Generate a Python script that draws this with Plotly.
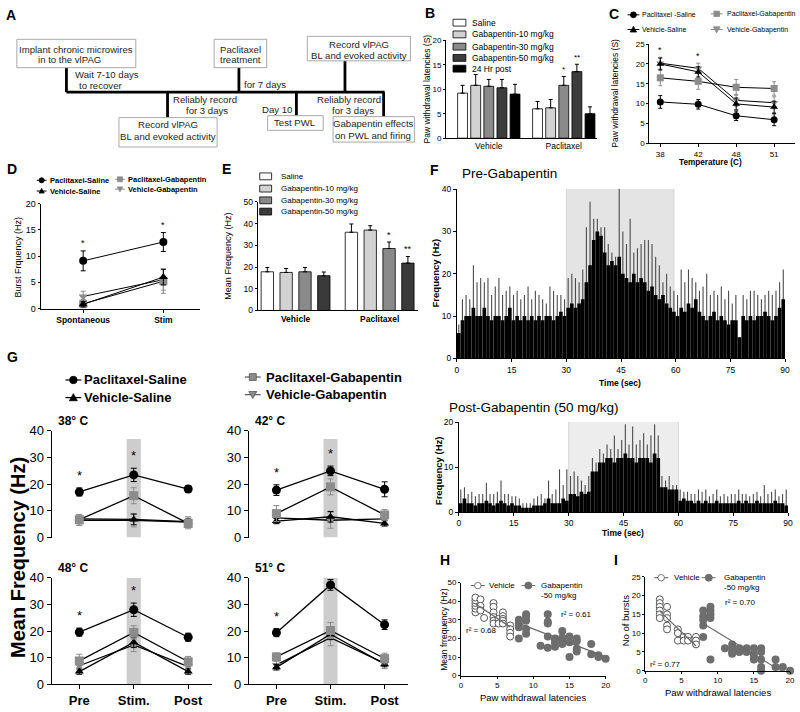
import numpy as np
import plotly.graph_objects as go

W, H = 800, 712
FONT = "Liberation Sans, Arial, Helvetica, sans-serif"

# ======================= DATA =======================
# Panel B: paw withdrawal latencies (s)
B_GROUPS = ["Vehicle", "Paclitaxel"]
B_TREATMENTS = ["Saline", "Gabapentin-10 mg/kg", "Gabapentin-30 mg/kg", "Gabapentin-50 mg/kg", "24 Hr post"]
B_VEHICLE = [9.2, 10.8, 10.6, 10.3, 9.0]
B_VEHICLE_ERR = [1.6, 2.2, 1.4, 1.7, 2.0]
B_PACLITAXEL = [6.0, 6.2, 10.8, 13.6, 5.0]
B_PACLITAXEL_ERR = [1.5, 1.7, 1.8, 1.5, 1.4]
B_PAC_SIG = ["", "", "*", "**", ""]

# Panel C: latency vs temperature
C_TEMPS = ["38", "42", "48", "51"]
C_PS = [10.4, 9.8, 6.9, 5.9]
C_PS_ERR = [1.6, 1.2, 1.2, 1.5]
C_VS = [20.0, 18.0, 9.9, 9.1]
C_VS_ERR = [1.5, 1.3, 1.5, 1.5]
C_PG = [16.5, 15.6, 14.1, 13.8]
C_PG_ERR = [2.0, 2.0, 2.0, 1.7]
C_VG = [20.2, 18.9, 10.8, 10.2]
C_VG_ERR = [1.5, 1.3, 1.5, 1.5]
C_SIG = ["*", "*", "", ""]

# Panel D: burst frequency
D_PHASES = ["Spontaneous", "Stim"]
D_PS = [9.1, 12.7]
D_PS_ERR = [1.9, 1.8]
D_VS = [0.8, 6.0]
D_VS_ERR = [0.5, 1.5]
D_PG = [0.9, 5.2]
D_PG_ERR = [0.8, 2.3]
D_VG = [2.3, 5.5]
D_VG_ERR = [1.0, 2.0]
D_SIG = ["*", "*"]

# Panel E: mean frequency
E_GROUPS = ["Vehicle", "Paclitaxel"]
E_TREATMENTS = ["Saline", "Gabapentin-10 mg/kg", "Gabapentin-30 mg/kg", "Gabapentin-50 mg/kg"]
E_VEHICLE = [17.8, 17.5, 17.8, 16.0]
E_VEHICLE_ERR = [2.0, 1.8, 2.0, 1.7]
E_PACLITAXEL = [36.0, 37.0, 28.5, 21.8]
E_PACLITAXEL_ERR = [3.8, 2.0, 3.0, 3.0]
E_PAC_SIG = ["", "", "*", "**"]

# Panel F: peri-stimulus histograms, 1-s bins (base level and spike tops)
F_PRE_BASE = [6, 9, 10, 10, 12, 10, 10, 12, 10, 9,
              10, 10, 9, 10, 12, 9, 10, 9, 10, 9,
              10, 9, 10, 9, 10, 10, 9, 10, 11, 10,
              12, 13, 12, 13, 14, 18, 22, 28, 30, 29,
              25, 22, 23, 22, 24, 20, 19, 18, 20, 18,
              19, 18, 16, 17, 15, 14, 15, 13, 12, 11,
              10, 12, 11, 13, 12, 14, 11, 10, 9, 10,
              11, 9, 10, 9, 8, 9, 9, 5, 10, 9,
              10, 9, 10, 10, 11, 10, 9, 10, 12, 14]
F_PRE_PEAK = [8, 14, 15, 14, 22, 18, 19, 18, 19, 15,
              17, 19, 15, 16, 17, 15, 16, 14, 15, 17,
              14, 16, 15, 14, 13, 17, 16, 15, 15, 14,
              19, 20, 19, 18, 21, 31, 37, 33, 33, 31,
              31, 27, 25, 24, 40, 30, 27, 33, 25, 26,
              27, 28, 28, 27, 24, 22, 18, 20, 17, 16,
              15, 21, 18, 21, 19, 18, 16, 17, 20, 15,
              16, 15, 17, 14, 16, 13, 15, 5, 15, 14,
              16, 16, 15, 14, 15, 16, 15, 16, 18, 21]
F_POST_BASE = [2, 3, 2, 2, 1.5, 2, 2, 2.5, 2, 1.5,
               2, 2.5, 2, 1.5, 2, 1.5, 1.5, 1, 1, 1,
               1.5, 1.5, 1.5, 2, 3, 2, 2, 2, 3, 2.5,
               4, 4, 3.5, 4.5, 4, 4.5, 9, 9, 11, 11,
               12, 12, 11, 12, 12, 13, 12, 12, 11, 12,
               12, 12, 11, 13, 12, 5.5, 5.5, 5, 5, 5,
               2.5, 3, 2.5, 2.5, 2, 2.5, 2, 2.5, 2, 2,
               2.5, 2, 2, 2, 2, 2, 2.5, 2, 2.5, 2,
               2, 2.5, 2, 2, 2, 2, 2.5, 2, 2, 1.5]
F_POST_PEAK = [5, 5.5, 4, 4.5, 3.5, 4, 4, 6.5, 4, 4,
               4.5, 7, 4, 4, 3.5, 3.5, 3, 2, 2, 2,
               3, 3.5, 4, 3, 7, 4, 5, 9.5, 6, 9.5,
               8, 9, 8, 7, 6, 8, 12, 11, 14, 13,
               15, 14, 17, 14, 16, 19.5, 15, 19, 15, 16,
               17.5, 15, 17, 19.5, 17, 8, 7, 8, 6, 6,
               5, 4.5, 4.5, 4, 4, 5, 4.5, 5, 3.5, 4,
               5, 3.5, 4, 3.5, 4, 4, 5, 4, 4, 3.5,
               4, 4.5, 3.5, 6, 4, 4.5, 5, 3.5, 4, 5]

# Panel G: mean frequency by temperature (rows: 38, 42, 48, 51 C; cols: Pre, Stim., Post)
G_TEMPS = ["38° C", "42° C", "48° C", "51° C"]
G_PHASES = ["Pre", "Stim.", "Post"]
G_PS = [[17.1, 23.5, 18.2], [17.8, 25.0, 18.1], [19.6, 28.0, 17.7], [19.4, 37.3, 22.4]]
G_PS_ERR = [[1.5, 2.5, 1.2], [2.0, 1.8, 2.8], [1.5, 2.5, 1.5], [1.5, 2.0, 1.8]]
G_PG = [[6.7, 15.7, 5.3], [9.0, 19.0, 8.5], [8.8, 19.5, 8.5], [10.3, 20.2, 9.7]]
G_PG_ERR = [[2.0, 3.0, 2.0], [3.0, 3.0, 2.0], [2.5, 2.5, 2.0], [1.5, 3.0, 2.0]]
G_VS = [[7.0, 6.8, 6.0], [6.2, 7.8, 5.3], [4.8, 15.8, 4.8], [6.4, 18.8, 7.6]]
G_VS_ERR = [[1.0, 2.0, 1.0], [1.0, 2.0, 1.0], [1.0, 2.0, 1.0], [1.0, 2.0, 1.0]]
G_VG = [[6.5, 6.5, 5.8], [7.4, 6.5, 7.0], [7.0, 14.8, 6.7], [7.3, 17.5, 7.9]]
G_VG_ERR = [[2.0, 2.5, 2.0], [2.0, 3.0, 2.0], [2.0, 2.5, 2.0], [1.5, 3.0, 2.0]]
G_SIG = ["*", "*", ""]

# Panel H: mean frequency vs paw withdrawal latency
H_VEH_X = [2, 2, 2, 2, 2, 2, 2.7, 2.7, 2.7, 3.2, 4.5, 4.5, 4.5, 4.5, 4.5, 4.5,
           5.2, 5.2, 5.8, 5.8, 5.8, 5.8, 5.8, 6.8, 6.8, 6.8, 6.8]
H_VEH_Y = [34, 36, 37.5, 39, 40.5, 42, 41, 37.5, 35, 31, 39, 37, 34, 31.5, 29.5, 28,
           30.5, 28, 34, 32, 30.5, 29.5, 28, 27, 25, 23, 21]
H_GAB_X = [8, 8, 8, 8, 9, 9, 9, 9, 9, 11, 12, 12, 12, 12, 12, 13, 13, 13, 13,
           14, 14, 14, 14, 15, 15, 15, 16, 16, 16, 16, 18, 18, 19, 19, 20]
H_GAB_Y = [30, 28, 26, 20, 33, 31.5, 29.5, 25, 22.5, 16, 33, 29, 28, 21, 15, 20, 19, 17.5, 15.5,
           24, 20.5, 19, 17, 21, 18, 10, 20, 18.5, 14.5, 13, 17, 11.5, 11, 10, 9]
H_R2 = ["r² = 0.68", "r² = 0.61"]

# Panel I: number of bursts vs paw withdrawal latency
I_VEH_X = [2, 2, 2, 2, 2, 2, 3, 3, 3, 3, 3, 4.5, 4.5, 4.5, 5.3, 5.3, 5.9, 5.9, 7, 7, 7]
I_VEH_Y = [19, 18, 17, 16, 15, 14, 17, 15, 14, 12, 11, 11, 10, 8, 9, 8, 9, 8, 9, 8, 7]
I_GAB_X = [8, 8, 8, 8, 8, 9, 9, 9, 9, 9, 11, 12, 12, 12, 12, 13, 13, 14, 14,
           15, 15, 15, 15, 16, 16, 16, 16, 16, 18, 18, 19, 20]
I_GAB_Y = [16, 14.5, 13.5, 12, 9, 17, 16, 15, 14, 3, 6, 7, 6, 5, 4.5, 6, 5, 6, 5,
           6, 4.5, 3.5, 3, 6, 5, 3, 1, 0, 3, 1, 1, 0]
I_R2 = ["r² = 0.77", "r² = 0.70"]

# ======================= HELPERS =======================
fig = go.Figure()
layout = dict(width=W, height=H, margin=dict(l=0, r=0, t=0, b=0), paper_bgcolor="white",
              plot_bgcolor="white", showlegend=False, barmode="overlay", hovermode=False,
              font=dict(family=FONT, color="black"))
shapes, ann = [], []


def text(x, y, s, size=9, bold=False, xa="left", ya="middle", angle=0, color="black",
         xref="paper", yref="paper"):
    if xref == "paper":
        x = x / W
    if yref == "paper":
        y = 1 - y / H
    ann.append(dict(x=x, y=y, xref=xref, yref=yref, text=s, showarrow=False, xanchor=xa,
                    yanchor=ya, textangle=angle, borderpad=0,
                    font=dict(family=FONT, size=size, color=color,
                              weight="bold" if bold else "normal")))


def rect(x0, y0, x1, y1, fill="white", line="#a8a8a8", lw=1):
    shapes.append(dict(type="rect", xref="paper", yref="paper", x0=x0 / W, x1=x1 / W,
                       y0=1 - y1 / H, y1=1 - y0 / H, fillcolor=fill,
                       line=dict(color=line, width=lw)))


def seg(x0, y0, x1, y1, color="black", lw=2.8):
    shapes.append(dict(type="line", xref="paper", yref="paper", x0=x0 / W, x1=x1 / W,
                       y0=1 - y0 / H, y1=1 - y1 / H, line=dict(color=color, width=lw)))


def mark(kind, cx, cy, r, fill, line="black", lw=0.8):
    if kind == "circle":
        shapes.append(dict(type="circle", xref="paper", yref="paper", x0=(cx - r) / W,
                           x1=(cx + r) / W, y0=1 - (cy + r) / H, y1=1 - (cy - r) / H,
                           fillcolor=fill, line=dict(color=line, width=lw)))
        return
    if kind == "square":
        pts = [(cx - r, cy - r), (cx + r, cy - r), (cx + r, cy + r), (cx - r, cy + r)]
    elif kind == "up":
        pts = [(cx - r, cy + 0.8 * r), (cx + r, cy + 0.8 * r), (cx, cy - r)]
    else:
        pts = [(cx - r, cy - 0.8 * r), (cx + r, cy - 0.8 * r), (cx, cy + r)]
    path = "M " + " L ".join(f"{x / W:.5f},{1 - y / H:.5f}" for x, y in pts) + " Z"
    shapes.append(dict(type="path", xref="paper", yref="paper", path=path, fillcolor=fill,
                       line=dict(color=line, width=lw)))


def make_axis(fs=8, bold=False, **kw):
    d = dict(showgrid=False, zeroline=False, showline=True, linecolor="black", linewidth=1,
             ticks="outside", ticklen=3, tickwidth=1, tickcolor="black",
             tickfont=dict(family=FONT, size=fs, color="black",
                           weight="bold" if bold else "normal"))
    d.update(kw)
    return d


def add_axes(n, xpx, ypx, xa, ya):
    xid = "x" if n == 1 else f"x{n}"
    yid = "y" if n == 1 else f"y{n}"
    xa.update(domain=[xpx[0] / W, xpx[1] / W], anchor=yid)
    ya.update(domain=[1 - ypx[1] / H, 1 - ypx[0] / H], anchor=xid)
    layout["xaxis" if n == 1 else f"xaxis{n}"] = xa
    layout["yaxis" if n == 1 else f"yaxis{n}"] = ya
    return xid, yid


def err(arr, color="black", up_only=False, w=2.5, th=1):
    d = dict(type="data", array=list(arr), color=color, thickness=th, width=w, visible=True)
    if up_only:
        d.update(symmetric=False, arrayminus=[0] * len(arr))
    return d


GRAY = "#8c8c8c"
SER_STYLE = {
    "PS": dict(symbol="circle", color="black"),
    "VS": dict(symbol="triangle-up", color="black"),
    "PG": dict(symbol="square", color=GRAY),
    "VG": dict(symbol="triangle-down", color=GRAY),
}


def line_trace(x, y, e, key, xid, yid, msize=7, lw=1, ew=2.5):
    st = SER_STYLE[key]
    return go.Scatter(x=x, y=y, xaxis=xid, yaxis=yid, mode="lines+markers", cliponaxis=False,
                      line=dict(color="black", width=lw),
                      marker=dict(symbol=st["symbol"], size=msize, color=st["color"],
                                  line=dict(color=st["color"], width=0)),
                      error_y=err(e, color=st["color"], w=ew), showlegend=False)


# ======================= PANEL A (timeline) =======================
text(3, 8, "A", 14, True)
AF = 9.6
AC = "#1e1e1e"
seg(65, 87, 386, 87)
seg(65, 62, 65, 87)
seg(167, 87, 167, 113)
seg(239, 62, 239, 87)
seg(346, 55, 346, 87)
seg(297, 87, 297, 111)
seg(385, 87, 385, 112)
rect(15, 33, 135, 62)
text(75, 43, "Implant chronic microwires", AF, xa="center", color=AC)
text(35, 54, "in to the vlPAG", AF, color=AC)
text(73, 69, "Wait 7-10 days", AF, color=AC)
text(77, 80, "to recover", AF, color=AC)
rect(118, 113, 217, 143)
text(167.5, 120, "Record vlPAG", AF, xa="center", color=AC)
text(167.5, 132, "BL and evoked activity", AF, xa="center", color=AC)
text(205, 94, "Reliably record", AF, xa="center", color=AC)
text(207, 106, "for 3 days", AF, xa="center", color=AC)
rect(214, 33, 267, 62)
text(240.5, 43, "Paclitaxel", AF, xa="center", color=AC)
text(240.5, 54, "treatment", AF, xa="center", color=AC)
text(243, 79, "for 7 days", AF, color=AC)
rect(308, 30, 412, 55)
text(360, 38, "Record vlPAG", AF, xa="center", color=AC)
text(360, 50, "BL and evoked activity", AF, xa="center", color=AC)
text(294, 105, "Day 10", AF, xa="right", color=AC)
rect(268, 111, 324, 126)
text(296, 118, "Test PWL", AF, xa="center", color=AC)
text(350, 94, "Reliably record", AF, xa="center", color=AC)
text(354, 106, "for 3 days", AF, xa="center", color=AC)
rect(334, 112, 416, 138)
text(375, 119, "Gabapentin effects", AF, xa="center", color=AC)
text(374, 131, "on PWL and firing", AF, xa="center", color=AC)

# ======================= PANEL B =======================
text(426, 6, "B", 14, True)
B_COLORS = ["white", "#d2d2d2", "#8a8a8a", "#3c3c3c", "black"]
B_BW, B_PITCH = 0.132, 0.175
B_START = -(4 * B_PITCH + B_BW) / 2
xb, yb = add_axes(1, (448, 600), (34, 134),
                  make_axis(fs=8.5, type="category", categoryorder="array",
                            categoryarray=B_GROUPS, range=[-0.57, 1.44], ticks=""),
                  make_axis(fs=8, range=[0, 20], tickvals=[0, 5, 10, 15, 20], ticklen=2))
for i, name in enumerate(B_TREATMENTS):
    fig.add_trace(go.Bar(x=B_GROUPS, y=[B_VEHICLE[i], B_PACLITAXEL[i]], xaxis=xb, yaxis=yb,
                         width=B_BW, offset=B_START + i * B_PITCH,
                         marker=dict(color=B_COLORS[i], line=dict(color="black", width=0.8)),
                         error_y=err([B_VEHICLE_ERR[i], B_PACLITAXEL_ERR[i]], up_only=True, w=2)))
    if B_PAC_SIG[i]:
        text(1 + B_START + i * B_PITCH + B_BW / 2, B_PACLITAXEL[i] + B_PACLITAXEL_ERR[i] + 0.3,
             B_PAC_SIG[i], 8, xa="center", ya="bottom", xref=xb, yref=yb)
for i, name in enumerate(B_TREATMENTS):
    ry = [16, 28, 40.5, 52, 63][i]
    rect(455, ry - 3.5, 468, ry + 3.5, fill=B_COLORS[i], line="black", lw=0.8)
    text(473, ry, name, 8.5)
text(429, 84, "Paw withdrawal latencies (S)", 8.5, xa="center", angle=-90)

# ======================= PANEL C =======================
text(611, 7, "C", 14, True)
xc, yc = add_axes(2, (653, 800), (38, 139),
                  make_axis(fs=8, type="category", categoryorder="array", categoryarray=C_TEMPS,
                            range=[-0.29, 3.55]),
                  make_axis(fs=8, range=[0, 25], tickvals=[0, 5, 10, 15, 20, 25], ticklen=2))
for key, ys, es in [("VG", C_VG, C_VG_ERR), ("PG", C_PG, C_PG_ERR),
                    ("VS", C_VS, C_VS_ERR), ("PS", C_PS, C_PS_ERR)]:
    fig.add_trace(line_trace(C_TEMPS, ys, es, key, xc, yc, msize=7, ew=2))
for j, s in enumerate(C_SIG):
    if s:
        top = max(C_PS[j] + C_PS_ERR[j], C_VS[j] + C_VS_ERR[j],
                  C_PG[j] + C_PG_ERR[j], C_VG[j] + C_VG_ERR[j])
        text(j, top + 0.2, s, 9, xa="center", ya="bottom", xref=xc, yref=yc)
text(619, 88, "Paw withdrawal latencies (S)", 8.5, xa="center", angle=-90)
text(715, 159, "Temperature (C)", 8.2, True, xa="center")
seg(631, 8, 643, 8, lw=1); mark("circle", 637, 8, 3, "black")
text(645, 8, "Paclitaxel -Saline", 7)
seg(631, 23, 643, 23, lw=1); mark("up", 637, 23, 3.2, "black")
text(645, 23, "Vehicle-Saline", 7)
seg(715, 7, 727, 7, color=GRAY, lw=1); mark("square", 721, 7, 2.8, GRAY, line=GRAY)
text(730, 7, "Paclitaxel-Gabapentin", 7)
seg(715, 23, 727, 23, color=GRAY, lw=1); mark("down", 721, 23, 3.4, GRAY, line=GRAY)
text(730, 23, "Vehicle-Gabapentin", 7)

# ======================= PANEL D =======================
text(4, 165, "D", 14, True)
xd, yd = add_axes(3, (39, 200), (201, 308),
                  make_axis(fs=8.5, bold=True, type="category", categoryorder="array",
                            categoryarray=D_PHASES, range=[-0.53, 1.46]),
                  make_axis(fs=9, range=[0, 20], tickvals=[0, 5, 10, 15, 20], ticklen=2))
for key, ys, es in [("VG", D_VG, D_VG_ERR), ("PG", D_PG, D_PG_ERR),
                    ("VS", D_VS, D_VS_ERR), ("PS", D_PS, D_PS_ERR)]:
    fig.add_trace(line_trace(D_PHASES, ys, es, key, xd, yd, msize=8, ew=2.5))
for j, s in enumerate(D_SIG):
    if s:
        text(j, D_PS[j] + D_PS_ERR[j] + 0.3, s, 9, xa="center", ya="bottom", xref=xd, yref=yd)
text(16, 255, "Burst Frquency (Hz)", 9, xa="center", angle=-90)
seg(35, 177, 45, 177, lw=1); mark("circle", 40, 177, 2.6, "black")
text(47, 177, "Paclitaxel-Saline", 7.5, True)
seg(35, 188, 45, 188, lw=1); mark("up", 40, 188, 2.6, "black")
text(47, 188, "Vehicle-Saline", 7.5, True)
seg(114, 176, 124, 176, color=GRAY, lw=1); mark("square", 119, 176, 2.5, GRAY, line=GRAY)
text(126, 176, "Paclitaxel-Gabapentin", 7.5, True)
seg(114, 186, 124, 186, color=GRAY, lw=1); mark("down", 119, 186, 2.8, GRAY, line=GRAY)
text(126, 186, "Vehicle-Gabapentin", 7.5, True)

# ======================= PANEL E =======================
text(221, 165, "E", 14, True)
E_COLORS = ["white", "#d2d2d2", "#8a8a8a", "#3a3a3a"]
E_BW, E_PITCH = 0.147, 0.224
E_START = -(3 * E_PITCH + E_BW) / 2
xe, ye = add_axes(4, (258, 420), (199, 310),
                  make_axis(fs=8.5, bold=True, type="category", categoryorder="array",
                            categoryarray=E_GROUPS, range=[-0.45, 1.46], ticks=""),
                  make_axis(fs=8.5, range=[0, 50], tickvals=[0, 10, 20, 30, 40, 50], ticklen=2))
for i, name in enumerate(E_TREATMENTS):
    fig.add_trace(go.Bar(x=E_GROUPS, y=[E_VEHICLE[i], E_PACLITAXEL[i]], xaxis=xe, yaxis=ye,
                         width=E_BW, offset=E_START + i * E_PITCH,
                         marker=dict(color=E_COLORS[i], line=dict(color="black", width=0.8)),
                         error_y=err([E_VEHICLE_ERR[i], E_PACLITAXEL_ERR[i]], up_only=True, w=2)))
    if E_PAC_SIG[i]:
        text(1 + E_START + i * E_PITCH + E_BW / 2, E_PACLITAXEL[i] + E_PACLITAXEL_ERR[i] + 0.5,
             E_PAC_SIG[i], 9, xa="center", ya="bottom", xref=xe, yref=ye)
for i, name in enumerate(E_TREATMENTS):
    ry = [173, 185.5, 197.5, 209][i]
    rect(260, ry - 3.5, 272, ry + 3.5, fill=E_COLORS[i], line="black", lw=0.8)
    text(280, ry, name, 8)
text(228, 255, "Mean Frequency (Hz)", 9, xa="center", angle=-90)

# ======================= PANEL F =======================
text(431, 166, "F", 14, True)
t_pre = np.arange(len(F_PRE_BASE)) + 0.5
t_post = np.arange(len(F_POST_BASE)) + 0.5
xf1, yf1 = add_axes(5, (459, 790), (186, 359),
                    make_axis(fs=8.5, range=[0, 90], tickvals=list(range(0, 91, 15))),
                    make_axis(fs=8.5, range=[0, 40], tickvals=[0, 10, 20, 30, 40]))
shapes.append(dict(type="rect", xref=xf1, yref=yf1, x0=30, x1=59.5, y0=0, y1=40.5,
                   fillcolor="#e4e4e4", line=dict(color="#d4d4d4", width=1), layer="below"))
fig.add_trace(go.Bar(x=t_pre, y=F_PRE_PEAK, width=0.3, xaxis=xf1, yaxis=yf1,
                     marker=dict(color="#4a4a4a", line=dict(width=0))))
fig.add_trace(go.Bar(x=t_pre, y=F_PRE_BASE, width=1.0, xaxis=xf1, yaxis=yf1,
                     marker=dict(color="black", line=dict(width=0))))
text(463, 170, "Pre-Gabapentin", 13.5)
text(437, 272, "Frequency (Hz)", 9.5, True, xa="center", angle=-90)
text(623, 384, "Time (sec)", 8.5, True, xa="center")

xf2, yf2 = add_axes(6, (461, 793), (424, 516),
                    make_axis(fs=8.5, range=[0, 90], tickvals=list(range(0, 91, 15))),
                    make_axis(fs=8.5, range=[0, 20], tickvals=[0, 10, 20]))
shapes.append(dict(type="rect", xref=xf2, yref=yf2, x0=30, x1=60, y0=0, y1=20.8,
                   fillcolor="#ededed", line=dict(color="#d8d8d8", width=1), layer="below"))
fig.add_trace(go.Bar(x=t_post, y=F_POST_PEAK, width=0.3, xaxis=xf2, yaxis=yf2,
                     marker=dict(color="#4a4a4a", line=dict(width=0))))
fig.add_trace(go.Bar(x=t_post, y=F_POST_BASE, width=1.0, xaxis=xf2, yaxis=yf2,
                     marker=dict(color="black", line=dict(width=0))))
text(450, 409, "Post-Gabapentin (50 mg/kg)", 13.5)
text(440, 474, "Frequency (Hz)", 9.5, True, xa="center", angle=-90)
text(626, 537, "Time (sec)", 8.5, True, xa="center")

# ======================= PANEL G =======================
text(4, 358, "G", 14, True)
G_AX = [((50, 212), (433, 542)), ((249, 410), (433, 542)),
        ((50, 212), (583, 692)), ((249, 410), (583, 692))]
G_SHADE_TOP = [37, 37, 40, 40]
for k in range(4):
    bottom = k >= 2
    xkw = make_axis(fs=13, bold=True, type="category", categoryorder="array",
                    categoryarray=G_PHASES, range=[-0.51, 2.44], ticklen=4)
    if not bottom:
        xkw.update(showline=False, ticks="", showticklabels=False)
    ykw = make_axis(fs=13, range=[0, 40], tickvals=[0, 10, 20, 30, 40], ticklen=4)
    xg, yg = add_axes(7 + k, G_AX[k][0], G_AX[k][1], xkw, ykw)
    shapes.append(dict(type="rect", xref=xg, yref=yg, x0=0.87, x1=1.13, y0=0,
                       y1=G_SHADE_TOP[k], fillcolor="#cdcdcd", line=dict(width=0),
                       layer="below"))
    for key, ys, es in [("VG", G_VG, G_VG_ERR), ("VS", G_VS, G_VS_ERR),
                        ("PG", G_PG, G_PG_ERR), ("PS", G_PS, G_PS_ERR)]:
        fig.add_trace(line_trace(G_PHASES, ys[k], es[k], key, xg, yg,
                                 msize=9 if key in ("PS", "PG") else 8, lw=1.3, ew=3))
    for j, s in enumerate(G_SIG):
        if s:
            text(j, G_PS[k][j] + G_PS_ERR[k][j] + 1.5, s, 13, xa="center", ya="bottom",
                 xref=xg, yref=yg)
    text(G_AX[k][0][0] + 5, G_AX[k][1][0] - 10, G_TEMPS[k], 12, True)
text(16, 562, "Mean Frequency (Hz)", 20, True, xa="center", angle=-90)
seg(64, 381, 80, 381, lw=1.2); mark("circle", 72, 381, 3.8, "black")
text(82, 381, "Paclitaxel-Saline", 13, True)
seg(64, 399, 80, 399, lw=1.2); mark("up", 72, 399, 4, "black")
text(82, 399, "Vehicle-Saline", 13, True)
seg(245, 378, 261, 378, color="#555", lw=1.2); mark("square", 253, 378, 3.5, GRAY, line="#555")
text(265, 378, "Paclitaxel-Gabapentin", 13, True)
seg(245, 396, 261, 396, color="#555", lw=1.2); mark("down", 253, 396, 4, GRAY, line="#555")
text(265, 396, "Vehicle-Gabapentin", 13, True)


# ======================= PANELS H & I =======================
def fit_line(xs, ys):
    k, b = np.polyfit(xs, ys, 1)
    xx = np.array([min(xs), max(xs)])
    return xx, k * xx + b


def scatter_panel(n, xpx, ypx, yrange, ytick, vx, vy, gx, gy):
    xs_, ys_ = add_axes(n, xpx, ypx,
                        make_axis(fs=8, range=[0, 20], tickvals=[0, 5, 10, 15, 20], ticklen=2),
                        make_axis(fs=8, range=yrange, ticklen=2,
                                  tickvals=list(range(0, yrange[1] + 1, ytick))))
    fig.add_trace(go.Scatter(x=vx, y=vy, mode="markers", xaxis=xs_, yaxis=ys_, cliponaxis=False,
                             marker=dict(symbol="circle", size=7, color="white",
                                         line=dict(color="#555", width=1))))
    fig.add_trace(go.Scatter(x=gx, y=gy, mode="markers", xaxis=xs_, yaxis=ys_, cliponaxis=False,
                             marker=dict(symbol="circle", size=8, color="#6e6e6e",
                                         line=dict(width=0))))
    for xs, ys in [(vx, vy), (gx, gy)]:
        fx, fy = fit_line(xs, ys)
        fig.add_trace(go.Scatter(x=fx, y=fy, mode="lines", xaxis=xs_, yaxis=ys_,
                                 line=dict(color="#6a6a6a", width=1.2)))


text(441, 565, "H", 14, True)
scatter_panel(11, (463, 609), (588, 683), [0, 50], 10, H_VEH_X, H_VEH_Y, H_GAB_X, H_GAB_Y)
text(445, 636, "Mean frrequency (Hz)", 8.5, xa="center", angle=-90)
text(536, 705, "Paw withdrawal latencies", 9.5, xa="center")
text(467, 637, H_R2[0], 8)
text(563, 621, H_R2[1], 8)
seg(473, 591, 487, 591, color="#555", lw=1); mark("circle", 480, 591, 3.3, "white", line="#555")
text(490, 591, "Vehicle", 8)
seg(524, 591, 538, 591, color="#6e6e6e", lw=1); mark("circle", 531, 591, 3.6, "#6e6e6e", line="#6e6e6e")
text(543, 591, "Gabapentin", 8)
text(543, 601, "-50 mg/kg", 8)

text(616, 565, "I", 14, True)
scatter_panel(12, (649, 795), (582, 678), [0, 25], 5, I_VEH_X, I_VEH_Y, I_GAB_X, I_GAB_Y)
text(629, 627, "No of bursts", 9.5, xa="center", angle=-90)
text(722, 700, "Paw withdrawal latencies", 9.5, xa="center")
text(653, 672, I_R2[0], 8)
text(728, 608, I_R2[1], 8)
seg(658, 583, 672, 583, color="#555", lw=1); mark("circle", 665, 583, 3.3, "white", line="#555")
text(677, 583, "Vehicle", 8)
seg(706, 583, 720, 583, color="#6e6e6e", lw=1); mark("circle", 713, 583, 3.6, "#6e6e6e", line="#6e6e6e")
text(727, 583, "Gabapentin", 8)
text(727, 593, "-50 mg/kg", 8)

for tr in fig.data:
    tr.showlegend = False
    tr.hoverinfo = "skip"

layout["shapes"] = shapes
layout["annotations"] = ann
fig.update_layout(**layout)
fig.write_html("out.html", config={"displayModeBar": False, "staticPlot": True},
               post_script="document.body.style.margin='0';")
